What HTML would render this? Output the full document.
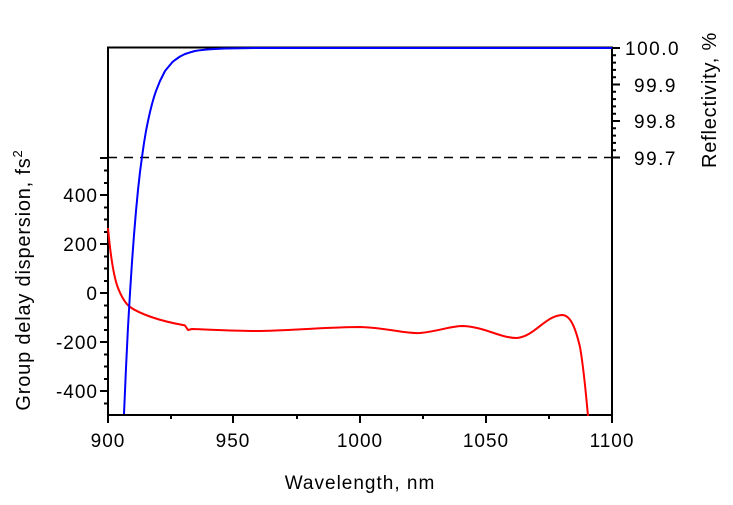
<!DOCTYPE html>
<html><head><style>body{margin:0;background:#fff}</style></head><body>
<svg width="733" height="500" xmlns="http://www.w3.org/2000/svg" font-family="Liberation Sans, sans-serif" fill="none">
<g stroke="#000" stroke-width="2">
<rect x="108" y="47.5" width="504" height="367.5"/>
<line x1="108" y1="195" x2="100" y2="195"/><line x1="108" y1="244" x2="100" y2="244"/><line x1="108" y1="293" x2="100" y2="293"/><line x1="108" y1="342" x2="100" y2="342"/><line x1="108" y1="391" x2="100" y2="391"/>
<line x1="108" y1="158" x2="100" y2="158"/>
<path d="M108 170.5h-4M108 183h-4M108 207.5h-4M108 219.5h-4M108 232h-4M108 256.5h-4M108 268.5h-4M108 281h-4M108 305.5h-4M108 317.5h-4M108 330h-4M108 354.5h-4M108 366.5h-4M108 379h-4M108 403.5h-4"/>
<path d="M108 415v8M233 415v8M360 415v8M486 415v8M612 415v8M171 415v4M297 415v4M423 415v4M549 415v4"/>
<path d="M612 48h8M612 84.5h8M612 121h8M612 157.5h8M612 55.3h4M612 62.6h4M612 69.9h4M612 77.2h4M612 91.8h4M612 99.1h4M612 106.4h4M612 113.7h4M612 128.3h4M612 135.6h4M612 142.9h4M612 150.2h4"/>
</g>
<line x1="108" y1="157.5" x2="612" y2="157.5" stroke="#000" stroke-width="1.6" stroke-dasharray="9,7"/>
<path d="M108 228 C110 250 113 275 118 288 C122 298 126 304 130 307 C140 314 160 321 183 325 L185 325.5 L188 330 L192 329 C220 330 240 331 260 331 C300 330 330 327 360 327 C390 328 405 334 420 333 C440 331 450 326 463 326 C485 327 500 338 517 338 C535 336 545 316 562 315 C570 315 575 326 580 347 C584 370 586 395 588 416" stroke="#f00" stroke-width="2" stroke-linejoin="round"/>
<polyline points="124,414 126,368 128,327 130,293 132,262 134,235 136,211 138,190 140,172 142,157 144,143 146,131 148,121 150,112 152,104 154,97 156,91 158,86 160,81 162.5,76 165,71 167.5,68 170,65 172.5,62 175,60 180,56.5 185,54 190,52.4 195,51 200,50.2 207,49.5 215,49 225,48.5 240,48.2 260,48 612,48" stroke="#00f" stroke-width="2" stroke-linejoin="round"/>
<g fill="#000" font-size="19" letter-spacing="1">
<g text-anchor="end"><text x="98" y="202">400</text><text x="98" y="251">200</text><text x="98" y="300">0</text><text x="98" y="349">-200</text><text x="98" y="398">-400</text></g>
<g text-anchor="middle"><text x="108" y="447">900</text><text x="233" y="447">950</text><text x="360" y="447">1000</text><text x="486" y="447">1050</text><text x="612" y="447">1100</text></g>
<text x="625" y="55" letter-spacing="1.5">100.0</text><text x="634" y="92" letter-spacing="1.5">99.9</text><text x="634" y="128" letter-spacing="1.5">99.8</text><text x="634" y="165" letter-spacing="1.5">99.7</text>
<text x="360" y="489" text-anchor="middle" font-size="19">Wavelength, nm</text>
<text transform="translate(30,280) rotate(-90)" text-anchor="middle" font-size="20" letter-spacing="0.8">Group delay dispersion, fs<tspan dy="-8" font-size="13">2</tspan></text>
<text transform="translate(716,100) rotate(-90)" text-anchor="middle" font-size="20" letter-spacing="0.8">Reflectivity, %</text>
</g>
</svg>
</body></html>
